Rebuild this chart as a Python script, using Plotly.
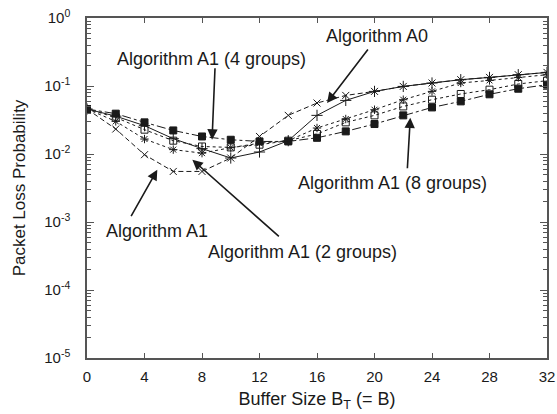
import plotly.graph_objects as go

buffer_size = [0, 2, 4, 6, 8, 10, 12, 14, 16, 18, 20, 22, 24, 26, 28, 30, 32]

algo_a0 = [0.0459, 0.0360, 0.0261, 0.0168, 0.0120, 0.00873, 0.0107, 0.0157, 0.0370,
           0.0614, 0.0833, 0.0986, 0.1107, 0.1238, 0.1337, 0.1466, 0.1585]
algo_a1 = [0.0459, 0.0233, 0.00977, 0.00554, 0.00554, 0.00873, 0.0181, 0.0370, 0.0562,
           0.0727, 0.0833, 0.0986, 0.1107, 0.1238, 0.1337, 0.1466, 0.1585]
algo_a1_2g = [0.0459, 0.0302, 0.0166, 0.0116, 0.0103, 0.0124, 0.0144, 0.0157, 0.0241,
              0.0327, 0.0448, 0.0629, 0.0833, 0.1107, 0.1208, 0.1337, 0.1466]
algo_a1_4g = [0.0459, 0.0345, 0.0228, 0.0157, 0.0129, 0.0125, 0.0137, 0.0157, 0.0197,
              0.0292, 0.0370, 0.0501, 0.0629, 0.0763, 0.0883, 0.1070, 0.1197]
algo_a1_8g = [0.0459, 0.0392, 0.0292, 0.0222, 0.0181, 0.0162, 0.0153, 0.0153, 0.0173,
              0.0215, 0.0276, 0.0370, 0.0484, 0.0594, 0.0755, 0.0912, 0.1045]

x_ticks = [0, 4, 8, 12, 16, 20, 24, 28, 32]
y_tick_vals = [1e-5, 1e-4, 1e-3, 1e-2, 1e-1, 1]
y_tick_text = ["10<sup>-5</sup>", "10<sup>-4</sup>", "10<sup>-3</sup>",
               "10<sup>-2</sup>", "10<sup>-1</sup>", "10<sup>0</sup>"]

FONT = "Liberation Sans, Arial, sans-serif"
INK = "#1a1a1a"
AXC = "#555555"

fig = go.Figure()

def add(y, name, dash, symbol, size):
    fig.add_trace(go.Scatter(
        x=buffer_size, y=y, name=name, mode="lines+markers",
        line=dict(color=INK, width=1, dash=dash),
        marker=dict(symbol=symbol, size=size, color=INK,
                    line=dict(color=INK, width=1)),
    ))

add(algo_a1_8g, "Algorithm A1 (8 groups)", "dashdot", "square", 7)
add(algo_a1_4g, "Algorithm A1 (4 groups)", "dot", "square-open", 7)
add(algo_a1_2g, "Algorithm A1 (2 groups)", "3px,3px", "asterisk-open", 7)
add(algo_a1, "Algorithm A1", "5px,3px", "x-thin-open", 7)
add(algo_a0, "Algorithm A0", "solid", "cross-thin-open", 8)

# text labels (x in data units, y in log10 units)
labels = [
    ("Algorithm A1 (4 groups)", 8.65, -0.60),
    ("Algorithm A0", 20.2, -0.26),
    ("Algorithm A1 (8 groups)", 21.24, -2.42),
    ("Algorithm A1", 4.89, -3.13),
    ("Algorithm A1 (2 groups)", 14.98, -3.44),
]
for t, x, y in labels:
    fig.add_annotation(x=x, y=y, xref="x", yref="y", text=t, showarrow=False,
                       font=dict(family=FONT, size=18, color=INK),
                       xanchor="center", yanchor="middle")

# arrows: tip in data coords, tail offset in px
arrows = [
    (8.70, -1.790, 3, -73),
    (16.70, -1.25, 42, -55),
    (22.49, -1.466, -3, 52),
    (4.89, -2.231, -27, 48),
    (7.33, -2.084, 88, 78),
]
for x, y, ax, ay in arrows:
    fig.add_annotation(x=x, y=y, xref="x", yref="y", text="", showarrow=True,
                       ax=ax, ay=ay, arrowhead=2, arrowsize=1.3, arrowwidth=1.6,
                       arrowcolor=INK)

fig.update_layout(
    width=557, height=414,
    margin=dict(l=87, r=10, t=18, b=56),
    paper_bgcolor="white", plot_bgcolor="white",
    showlegend=False, hovermode=False,
    font=dict(family=FONT, color=INK),
)
fig.update_xaxes(
    range=[0, 32], tickvals=x_ticks, ticks="inside", ticklen=5, automargin=False,
    tickcolor=AXC, showline=True, linecolor=AXC, linewidth=1.5, mirror="ticks",
    showgrid=False, zeroline=False, ticklabeloverflow="allow",
    tickfont=dict(family=FONT, size=15, color=INK), ticklabelstandoff=4,
    title=dict(text="Buffer Size B<sub>T</sub> (= B)", standoff=9,
               font=dict(family=FONT, size=18, color=INK)),
)
fig.update_yaxes(
    type="log", range=[-5, 0], tickvals=y_tick_vals, ticktext=y_tick_text,
    ticks="inside", ticklen=7, tickcolor=AXC, automargin=False,
    minor=dict(ticks="inside", ticklen=4, tickcolor=AXC, dtick="D1", showgrid=False),
    showline=True, linecolor=AXC, linewidth=1.5, mirror="ticks",
    showgrid=False, zeroline=False, ticklabeloverflow="allow",
    tickfont=dict(family=FONT, size=15, color=INK), ticklabelstandoff=12,
    title=dict(text="Packet Loss Probability", standoff=14,
               font=dict(family=FONT, size=17, color=INK)),
)

fig.write_html(
    "out.html",
    config={"displayModeBar": False},
    post_script="document.body.style.margin='0';document.body.style.overflow='hidden';",
)
